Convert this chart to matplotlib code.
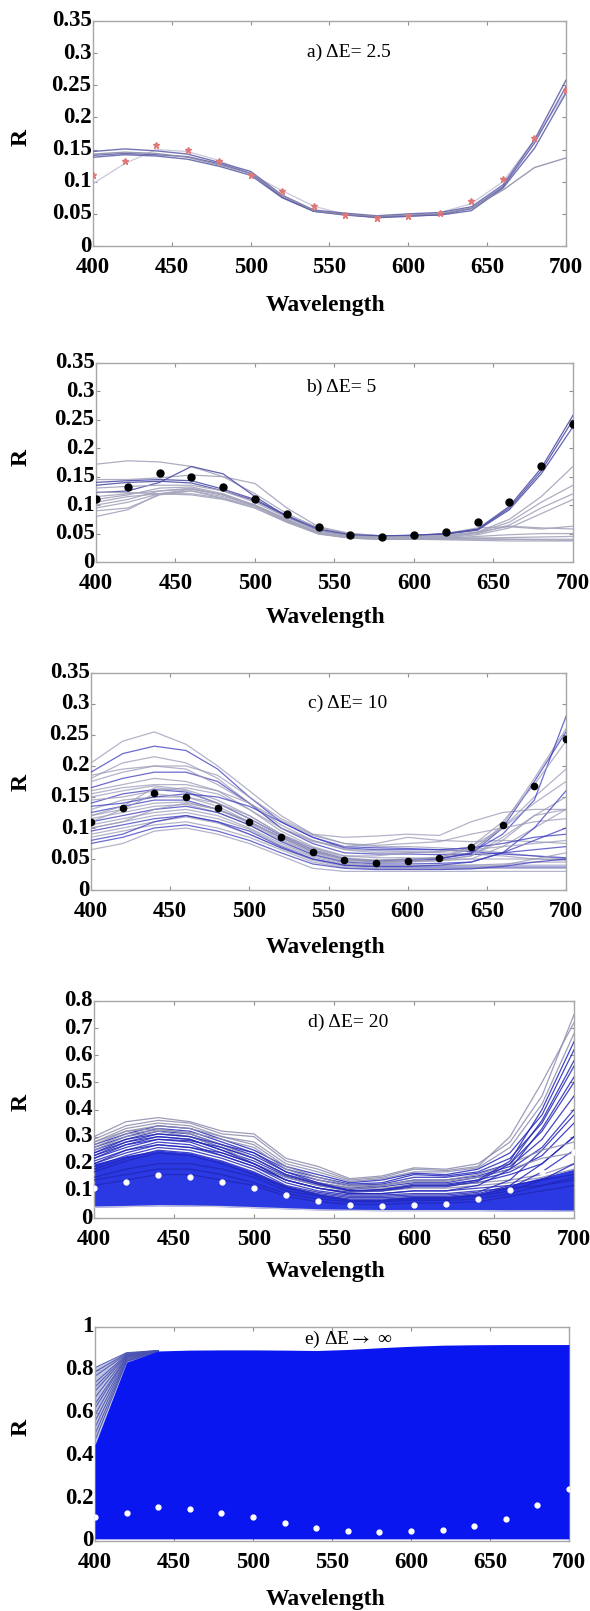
import matplotlib
matplotlib.use("Agg")
import matplotlib.pyplot as plt
import numpy as np

# ---------------- data ----------------
wavelength = [400, 420, 440, 460, 480, 500, 520, 540, 560, 580, 600, 620, 640, 660, 680, 700]
target = [0.110, 0.132, 0.157, 0.150, 0.132, 0.110, 0.085, 0.062, 0.048, 0.044, 0.047, 0.052, 0.070, 0.105, 0.168, 0.243]

panel_titles = ["a) \u0394E= 2.5", "b) \u0394E= 5", "c) \u0394E= 10", "d) \u0394E= 20", "e) \u0394E$\\rightarrow$ \u221e"]
yticks_abc = [0, 0.05, 0.1, 0.15, 0.2, 0.25, 0.3, 0.35]
yticklabels_abc = ["0", "0.05", "0.1", "0.15", "0.2", "0.25", "0.3", "0.35"]
yticks_d = [0, 0.1, 0.2, 0.3, 0.4, 0.5, 0.6, 0.7, 0.8]
yticklabels_d = ["0", "0.1", "0.2", "0.3", "0.4", "0.5", "0.6", "0.7", "0.8"]
yticks_e = [0, 0.2, 0.4, 0.6, 0.8, 1.0]
yticklabels_e = ["0", "0.2", "0.4", "0.6", "0.8", "1"]
xticks = [400, 450, 500, 550, 600, 650, 700]

curves_a = [
    [0.147, 0.151, 0.148, 0.143, 0.130, 0.116, 0.079, 0.056, 0.051, 0.047, 0.050, 0.052, 0.061, 0.095, 0.165, 0.258],
    [0.141, 0.144, 0.142, 0.139, 0.128, 0.113, 0.076, 0.054, 0.049, 0.044, 0.046, 0.049, 0.058, 0.092, 0.160, 0.248],
    [0.138, 0.142, 0.140, 0.135, 0.124, 0.110, 0.075, 0.054, 0.048, 0.045, 0.047, 0.048, 0.055, 0.090, 0.152, 0.238],
    [0.143, 0.146, 0.144, 0.138, 0.126, 0.113, 0.079, 0.055, 0.049, 0.046, 0.048, 0.050, 0.059, 0.087, 0.122, 0.137],
]
faint_a = [0.097, 0.128, 0.150, 0.147, 0.133, 0.112, 0.086, 0.062, 0.049, 0.045, 0.047, 0.052, 0.066, 0.100, 0.165, 0.240]

curves_b = [
    [0.172, 0.178, 0.176, 0.168, 0.150, 0.120, 0.085, 0.060, 0.050, 0.046, 0.045, 0.043, 0.042, 0.040, 0.039, 0.038],
    [0.145, 0.145, 0.148, 0.153, 0.150, 0.138, 0.095, 0.062, 0.050, 0.046, 0.047, 0.050, 0.060, 0.062, 0.058, 0.063],
    [0.140, 0.143, 0.145, 0.143, 0.128, 0.110, 0.082, 0.058, 0.048, 0.046, 0.047, 0.050, 0.058, 0.098, 0.165, 0.258],
    [0.135, 0.140, 0.142, 0.139, 0.125, 0.108, 0.080, 0.056, 0.047, 0.045, 0.047, 0.049, 0.057, 0.095, 0.160, 0.250],
    [0.122, 0.125, 0.140, 0.168, 0.155, 0.115, 0.080, 0.055, 0.047, 0.045, 0.046, 0.049, 0.056, 0.092, 0.155, 0.238],
    [0.130, 0.133, 0.135, 0.135, 0.125, 0.105, 0.078, 0.055, 0.046, 0.044, 0.045, 0.047, 0.053, 0.075, 0.115, 0.168],
    [0.110, 0.118, 0.130, 0.132, 0.120, 0.100, 0.075, 0.052, 0.044, 0.042, 0.043, 0.046, 0.052, 0.070, 0.105, 0.135],
    [0.100, 0.110, 0.125, 0.130, 0.118, 0.098, 0.072, 0.050, 0.043, 0.042, 0.043, 0.045, 0.050, 0.065, 0.095, 0.120],
    [0.095, 0.105, 0.120, 0.125, 0.112, 0.095, 0.070, 0.049, 0.042, 0.040, 0.041, 0.043, 0.048, 0.060, 0.085, 0.110],
    [0.123, 0.122, 0.120, 0.118, 0.110, 0.095, 0.070, 0.050, 0.042, 0.040, 0.040, 0.040, 0.040, 0.040, 0.040, 0.040],
    [0.090, 0.095, 0.118, 0.125, 0.115, 0.100, 0.075, 0.052, 0.044, 0.041, 0.042, 0.043, 0.052, 0.063, 0.060, 0.058],
    [0.080, 0.092, 0.120, 0.128, 0.118, 0.100, 0.073, 0.050, 0.042, 0.040, 0.040, 0.039, 0.038, 0.037, 0.037, 0.037],
    [0.115, 0.120, 0.125, 0.128, 0.118, 0.100, 0.075, 0.052, 0.044, 0.042, 0.042, 0.042, 0.045, 0.048, 0.050, 0.050],
    [0.105, 0.115, 0.120, 0.120, 0.112, 0.098, 0.072, 0.050, 0.043, 0.041, 0.041, 0.041, 0.042, 0.043, 0.044, 0.045],
]

curves_c = [
    [0.205, 0.240, 0.255, 0.235, 0.200, 0.160, 0.120, 0.090, 0.075, 0.070, 0.070, 0.068, 0.065, 0.060, 0.055, 0.050],
    [0.190, 0.220, 0.232, 0.225, 0.195, 0.150, 0.110, 0.085, 0.070, 0.068, 0.067, 0.065, 0.062, 0.058, 0.055, 0.052],
    [0.180, 0.205, 0.215, 0.205, 0.180, 0.140, 0.100, 0.080, 0.066, 0.063, 0.062, 0.060, 0.058, 0.055, 0.050, 0.048],
    [0.175, 0.190, 0.200, 0.200, 0.185, 0.150, 0.115, 0.090, 0.085, 0.087, 0.090, 0.088, 0.110, 0.125, 0.130, 0.130],
    [0.165, 0.180, 0.190, 0.190, 0.175, 0.140, 0.100, 0.075, 0.060, 0.058, 0.058, 0.057, 0.057, 0.060, 0.065, 0.070],
    [0.160, 0.170, 0.180, 0.175, 0.160, 0.130, 0.095, 0.070, 0.055, 0.052, 0.052, 0.050, 0.050, 0.050, 0.050, 0.050],
    [0.150, 0.160, 0.168, 0.162, 0.145, 0.120, 0.090, 0.068, 0.052, 0.048, 0.050, 0.052, 0.060, 0.105, 0.180, 0.260],
    [0.140, 0.155, 0.162, 0.158, 0.140, 0.115, 0.088, 0.065, 0.050, 0.047, 0.049, 0.051, 0.058, 0.100, 0.175, 0.255],
    [0.145, 0.150, 0.160, 0.165, 0.155, 0.130, 0.100, 0.078, 0.070, 0.075, 0.085, 0.080, 0.078, 0.080, 0.078, 0.075],
    [0.130, 0.145, 0.150, 0.150, 0.140, 0.120, 0.090, 0.068, 0.055, 0.055, 0.060, 0.062, 0.070, 0.100, 0.150, 0.195],
    [0.125, 0.135, 0.145, 0.145, 0.130, 0.110, 0.085, 0.062, 0.050, 0.046, 0.047, 0.050, 0.060, 0.090, 0.145, 0.280],
    [0.120, 0.130, 0.140, 0.142, 0.130, 0.108, 0.082, 0.060, 0.048, 0.045, 0.046, 0.048, 0.055, 0.085, 0.120, 0.150],
    [0.115, 0.125, 0.135, 0.138, 0.125, 0.105, 0.080, 0.058, 0.046, 0.044, 0.045, 0.047, 0.050, 0.070, 0.100, 0.130],
    [0.110, 0.120, 0.130, 0.135, 0.125, 0.105, 0.078, 0.057, 0.045, 0.042, 0.042, 0.043, 0.045, 0.060, 0.080, 0.100],
    [0.105, 0.115, 0.125, 0.130, 0.120, 0.100, 0.075, 0.055, 0.044, 0.040, 0.040, 0.040, 0.040, 0.042, 0.045, 0.045],
    [0.100, 0.110, 0.120, 0.125, 0.115, 0.098, 0.072, 0.053, 0.042, 0.039, 0.039, 0.039, 0.040, 0.040, 0.040, 0.040],
    [0.095, 0.105, 0.115, 0.120, 0.110, 0.095, 0.070, 0.050, 0.040, 0.037, 0.037, 0.037, 0.037, 0.037, 0.037, 0.037],
    [0.090, 0.100, 0.110, 0.118, 0.108, 0.090, 0.068, 0.048, 0.038, 0.035, 0.035, 0.035, 0.035, 0.035, 0.035, 0.035],
    [0.085, 0.095, 0.105, 0.110, 0.100, 0.085, 0.065, 0.045, 0.036, 0.034, 0.034, 0.034, 0.035, 0.040, 0.050, 0.060],
    [0.075, 0.085, 0.100, 0.105, 0.095, 0.080, 0.060, 0.042, 0.035, 0.033, 0.033, 0.033, 0.034, 0.038, 0.045, 0.050],
    [0.065, 0.075, 0.095, 0.100, 0.090, 0.075, 0.055, 0.035, 0.030, 0.030, 0.030, 0.030, 0.030, 0.030, 0.030, 0.030],
    [0.120, 0.135, 0.165, 0.160, 0.140, 0.115, 0.088, 0.065, 0.050, 0.046, 0.048, 0.052, 0.070, 0.110, 0.170, 0.240],
    [0.135, 0.140, 0.150, 0.155, 0.150, 0.135, 0.110, 0.085, 0.068, 0.065, 0.065, 0.065, 0.068, 0.075, 0.085, 0.090],
    [0.155, 0.165, 0.170, 0.170, 0.160, 0.140, 0.112, 0.088, 0.075, 0.072, 0.075, 0.078, 0.090, 0.100, 0.110, 0.115],
    [0.100, 0.110, 0.130, 0.140, 0.130, 0.110, 0.085, 0.062, 0.050, 0.048, 0.050, 0.053, 0.065, 0.100, 0.140, 0.175],
    [0.080, 0.090, 0.110, 0.120, 0.110, 0.090, 0.068, 0.050, 0.040, 0.038, 0.038, 0.040, 0.045, 0.060, 0.100, 0.160],
    [0.185, 0.195, 0.200, 0.195, 0.170, 0.140, 0.105, 0.080, 0.065, 0.060, 0.060, 0.062, 0.065, 0.070, 0.075, 0.080],
    [0.110, 0.130, 0.155, 0.150, 0.135, 0.110, 0.085, 0.063, 0.050, 0.045, 0.046, 0.048, 0.055, 0.080, 0.120, 0.130],
]

core_d_high = [0.200, 0.230, 0.250, 0.240, 0.210, 0.170, 0.120, 0.090, 0.070, 0.070, 0.080, 0.080, 0.090, 0.120, 0.150, 0.180]
core_d_low = [0.040, 0.042, 0.045, 0.044, 0.042, 0.038, 0.034, 0.030, 0.028, 0.027, 0.027, 0.027, 0.027, 0.026, 0.026, 0.025]
curves_d = [
    [0.300, 0.355, 0.370, 0.355, 0.320, 0.310, 0.220, 0.190, 0.145, 0.155, 0.185, 0.180, 0.200, 0.280, 0.450, 0.750],
    [0.290, 0.340, 0.360, 0.350, 0.310, 0.300, 0.210, 0.180, 0.140, 0.150, 0.180, 0.175, 0.190, 0.300, 0.500, 0.720],
    [0.280, 0.330, 0.350, 0.340, 0.300, 0.280, 0.200, 0.170, 0.135, 0.145, 0.170, 0.170, 0.185, 0.260, 0.420, 0.680],
    [0.270, 0.310, 0.340, 0.330, 0.290, 0.250, 0.190, 0.160, 0.130, 0.140, 0.165, 0.160, 0.180, 0.240, 0.380, 0.620],
    [0.260, 0.300, 0.330, 0.320, 0.280, 0.240, 0.180, 0.150, 0.125, 0.130, 0.160, 0.155, 0.170, 0.220, 0.350, 0.560],
    [0.250, 0.290, 0.320, 0.310, 0.270, 0.230, 0.170, 0.140, 0.120, 0.125, 0.150, 0.150, 0.165, 0.200, 0.320, 0.500],
    [0.240, 0.280, 0.310, 0.300, 0.260, 0.220, 0.160, 0.130, 0.110, 0.120, 0.140, 0.140, 0.155, 0.190, 0.290, 0.450],
    [0.230, 0.270, 0.300, 0.290, 0.250, 0.210, 0.155, 0.125, 0.105, 0.115, 0.130, 0.130, 0.150, 0.180, 0.260, 0.400],
    [0.220, 0.260, 0.290, 0.280, 0.240, 0.200, 0.150, 0.120, 0.100, 0.105, 0.125, 0.125, 0.140, 0.170, 0.230, 0.350],
    [0.210, 0.250, 0.280, 0.270, 0.230, 0.190, 0.140, 0.110, 0.095, 0.100, 0.120, 0.120, 0.130, 0.160, 0.200, 0.300],
    [0.250, 0.300, 0.320, 0.300, 0.260, 0.200, 0.150, 0.120, 0.100, 0.100, 0.110, 0.110, 0.120, 0.130, 0.150, 0.180],
    [0.270, 0.320, 0.330, 0.310, 0.270, 0.220, 0.160, 0.130, 0.110, 0.110, 0.120, 0.120, 0.130, 0.140, 0.160, 0.200],
    [0.230, 0.280, 0.300, 0.290, 0.250, 0.200, 0.140, 0.110, 0.090, 0.090, 0.100, 0.100, 0.110, 0.120, 0.140, 0.160],
    [0.200, 0.250, 0.270, 0.260, 0.230, 0.190, 0.130, 0.100, 0.085, 0.085, 0.090, 0.090, 0.100, 0.110, 0.120, 0.140],
    [0.190, 0.230, 0.260, 0.250, 0.220, 0.180, 0.120, 0.095, 0.080, 0.080, 0.085, 0.085, 0.095, 0.140, 0.250, 0.380],
    [0.180, 0.220, 0.250, 0.240, 0.210, 0.170, 0.115, 0.090, 0.075, 0.075, 0.080, 0.080, 0.090, 0.120, 0.200, 0.300],
    [0.170, 0.210, 0.240, 0.230, 0.200, 0.160, 0.110, 0.085, 0.070, 0.070, 0.075, 0.075, 0.085, 0.110, 0.170, 0.250],
    [0.280, 0.320, 0.340, 0.330, 0.300, 0.270, 0.190, 0.150, 0.120, 0.120, 0.140, 0.140, 0.160, 0.200, 0.250, 0.280],
    [0.260, 0.310, 0.325, 0.315, 0.290, 0.260, 0.180, 0.140, 0.115, 0.120, 0.135, 0.135, 0.150, 0.180, 0.220, 0.240],
    [0.150, 0.180, 0.200, 0.200, 0.180, 0.150, 0.100, 0.080, 0.065, 0.065, 0.070, 0.070, 0.080, 0.100, 0.140, 0.200],
    [0.140, 0.160, 0.180, 0.180, 0.160, 0.130, 0.090, 0.070, 0.060, 0.060, 0.065, 0.065, 0.070, 0.090, 0.120, 0.150],
    [0.120, 0.140, 0.160, 0.160, 0.140, 0.120, 0.080, 0.060, 0.050, 0.050, 0.055, 0.055, 0.060, 0.080, 0.100, 0.120],
    [0.240, 0.290, 0.310, 0.300, 0.270, 0.240, 0.170, 0.130, 0.100, 0.105, 0.120, 0.120, 0.140, 0.210, 0.400, 0.650],
    [0.220, 0.270, 0.290, 0.285, 0.260, 0.220, 0.160, 0.125, 0.100, 0.100, 0.115, 0.115, 0.135, 0.200, 0.360, 0.580],
    [0.200, 0.240, 0.270, 0.260, 0.240, 0.200, 0.140, 0.110, 0.090, 0.090, 0.100, 0.100, 0.120, 0.180, 0.330, 0.520],
]

fill_e_high = [0.450, 0.836, 0.888, 0.892, 0.893, 0.893, 0.892, 0.890, 0.895, 0.903, 0.910, 0.915, 0.917, 0.918, 0.918, 0.918]
fill_e_low = [0.010, 0.010, 0.010, 0.010, 0.010, 0.010, 0.010, 0.010, 0.010, 0.010, 0.010, 0.010, 0.010, 0.010, 0.010, 0.010]
wedge_e_400 = [0.81, 0.79, 0.77, 0.74, 0.72, 0.70, 0.67, 0.64, 0.62, 0.59, 0.56, 0.53, 0.50, 0.47]
wedge_e_420 = [0.880, 0.877, 0.874, 0.871, 0.868, 0.865, 0.862, 0.859, 0.856, 0.852, 0.848, 0.844, 0.840, 0.838]
wedge_e_440 = [0.890, 0.890, 0.889, 0.889, 0.889, 0.888, 0.888, 0.888, 0.887, 0.887, 0.886, 0.886, 0.886, 0.885]

# ---------------- styling ----------------
SERIF = ["Liberation Serif", "DejaVu Serif"]
plt.rcParams["font.family"] = SERIF
plt.rcParams["mathtext.fontset"] = "stix"
W, H = 590, 1611
fig = plt.figure(figsize=(W / 100, H / 100), dpi=100)

# axes rectangles in pixels: left, right, top, bottom
rects = [
    (93, 566, 21, 246),
    (96, 573, 363, 562),
    (91, 566, 673, 890),
    (94, 574, 1001, 1218),
    (95, 569, 1327, 1541),
]
title_pos = [(0.541, 0.862), (0.513, 0.879), (0.541, 0.862), (0.529, 0.90), (0.534, 0.944)]
wl_label_y = [305, 617, 947, 1272, 1600]
r_label_y = [137, 457, 782, 1102, 1427]

axes = []
for (l, r, t, b) in rects:
    ax = fig.add_axes([l / W, 1 - b / H, (r - l) / W, (b - t) / H])
    axes.append(ax)

def style(ax, yt, ytl, ylim):
    ax.set_xlim(400, 700)
    ax.set_ylim(*ylim)
    ax.set_xticks(xticks)
    ax.set_xticklabels([str(v) for v in xticks])
    ax.set_yticks(yt)
    ax.set_yticklabels(ytl)
    ax.tick_params(direction="in", length=3, width=0.8, color="#909090",
                   top=True, right=True, labelsize=16.5)
    ax.tick_params(axis="x", pad=8)
    ax.tick_params(axis="y", pad=1)
    for lab in ax.get_xticklabels() + ax.get_yticklabels():
        lab.set_fontweight("bold")
    for lab in ax.get_yticklabels():
        lab.set_va("center")
    for sp in ax.spines.values():
        sp.set_color("#a8a8a8")
        sp.set_linewidth(1.0)

# panel a
ax = axes[0]
ax.plot(wavelength, faint_a, color="#c8c8dc", lw=0.9, zorder=2)
for i, c in enumerate(curves_a):
    col = "#8a8aa6" if i == 3 else "#5b5ba8"
    ax.plot(wavelength, c, color=col, lw=1.0, alpha=0.85, zorder=3)
ax.plot(wavelength, target, linestyle="none", marker="*", ms=5, color="#e07878", zorder=4)
style(ax, yticks_abc, yticklabels_abc, (0, 0.35))

# panel b
ax = axes[1]
for i, c in enumerate(curves_b):
    col = "#5050a8" if i in (2, 3, 4) else "#a4a4bc"
    ax.plot(wavelength, c, color=col, lw=0.9, alpha=0.9, zorder=3)
ax.plot(wavelength, target, linestyle="none", marker="o", ms=5, color="black", zorder=4)
style(ax, yticks_abc, yticklabels_abc, (0, 0.35))

# panel c
ax = axes[2]
for i, c in enumerate(curves_c):
    col = "#3a3ac0" if i % 3 == 1 else "#9a9ab8"
    ax.plot(wavelength, c, color=col, lw=0.9, alpha=0.75, zorder=3)
ax.plot(wavelength, target, linestyle="none", marker="o", ms=4.5, color="black", zorder=4)
style(ax, yticks_abc, yticklabels_abc, (0, 0.35))

# panel d
ax = axes[3]
ax.fill_between(wavelength, core_d_low, core_d_high, color="#1e2ee0", alpha=0.95, lw=0, zorder=2)
for i, c in enumerate(curves_d):
    col = "#8c8cae" if i in (0, 1, 2, 10, 11, 17, 18) else "#2226b8"
    ax.plot(wavelength, c, color=col, lw=0.9, alpha=0.85, zorder=3)
ax.plot(wavelength, core_d_low, color="#c8c8e0", lw=1.0, zorder=3)
ax.plot(wavelength, target, linestyle="none", marker="o", ms=3.5, color="white", zorder=4)
style(ax, yticks_d, yticklabels_d, (0, 0.8))

# panel e
ax = axes[4]
ax.fill_between(wavelength[:3], fill_e_high[:3], [wedge_e_400[0], wedge_e_420[0], wedge_e_440[0]],
                color="#9aa0d4", alpha=0.6, lw=0, zorder=1)
for v0, v1, v2 in zip(wedge_e_400, wedge_e_420, wedge_e_440):
    ax.plot(wavelength[:3], [v0, v1, v2], color="#4a52b0", lw=0.8, alpha=0.9, zorder=2)
ax.fill_between(wavelength, fill_e_low, fill_e_high, color="#0a16f0", lw=0, zorder=3)
ax.plot(wavelength, target, linestyle="none", marker="o", ms=3.5, color="white", zorder=4)
style(ax, yticks_e, yticklabels_e, (0, 1.0))

for ax, title, (tx, ty) in zip(axes, panel_titles, title_pos):
    ax.text(tx, ty, title, transform=ax.transAxes, ha="center", va="center",
            fontsize=14, family=SERIF, zorder=6)

for y in wl_label_y:
    fig.text(326 / W, 1 - y / H, "Wavelength", ha="center", va="center",
             fontsize=17, fontweight="bold", family=SERIF)
for y in r_label_y:
    fig.text(21 / W, 1 - y / H, "R", ha="center", va="center", rotation=90,
             fontsize=17, fontweight="bold", family=SERIF)

fig.savefig("out.png", dpi=100)
